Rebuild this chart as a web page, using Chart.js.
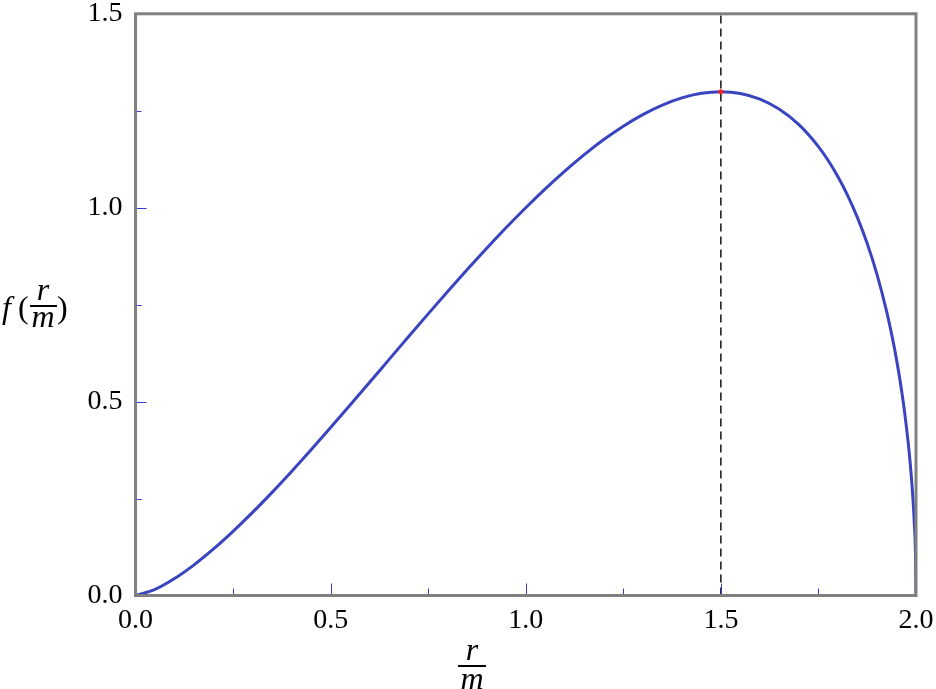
<!DOCTYPE html>
<html>
<head>
<meta charset="utf-8">
<script src="https://cdn.jsdelivr.net/npm/chart.js@4.4.1/dist/chart.umd.min.js"></script>
<style>
html,body{margin:0;padding:0;background:#fff;}
#wrap{position:relative;width:936px;height:689px;}
</style>
</head>
<body>
<div id="wrap"><canvas id="c" width="936" height="689"></canvas></div>
<script>
// r/m values
const xValues = [0, 0.05, 0.1, 0.15, 0.2, 0.25, 0.3, 0.35, 0.4, 0.45, 0.5, 0.55, 0.6, 0.65, 0.7, 0.75, 0.8, 0.85, 0.9, 0.95,
  1.0, 1.05, 1.1, 1.15, 1.2, 1.25, 1.3, 1.35, 1.4, 1.45, 1.5, 1.55, 1.6, 1.65, 1.7, 1.75, 1.775, 1.8, 1.825, 1.85, 1.875,
  1.9, 1.925, 1.94, 1.95, 1.96, 1.97, 1.98, 1.985, 1.99, 1.995, 1.999, 2.0];
// f(r/m) values
const yValues = [0, 0.0156, 0.0436, 0.0790, 0.1200, 0.1654, 0.2142, 0.2660, 0.3200, 0.3758, 0.4330, 0.4912, 0.5499, 0.6089, 0.6678, 0.7262, 0.7838, 0.8404, 0.8955, 0.9488,
  1.0, 1.0487, 1.0945, 1.1370, 1.1758, 1.2103, 1.2401, 1.2646, 1.2831, 1.2949, 1.2990, 1.2945, 1.2800, 1.2539, 1.2141, 1.1575, 1.1217, 1.0800, 1.0314, 0.9745, 0.9077,
  0.8282, 0.7314, 0.6619, 0.6089, 0.5488, 0.4789, 0.3940, 0.3425, 0.2807, 0.1993, 0.0894, 0];
const peakX = 1.5;
const peakY = 1.299;
const xTickValues = [0, 0.5, 1.0, 1.5, 2.0];
const yTickValues = [0, 0.5, 1.0, 1.5];
const xMinorTicks = [0.25, 0.75, 1.25, 1.75];
const yMinorTicks = [0.25, 0.75, 1.25];
const xLabelParts = ['r', 'm'];
const yLabelParts = ['f', '(', 'r', 'm', ')'];

const curve = xValues.map((x, i) => ({x: x, y: yValues[i]}));
const FONT = '"Liberation Serif", "Times New Roman", serif';

const decorPlugin = {
  id: 'decor',
  afterDraw(chart) {
    const ctx = chart.ctx;
    const xs = chart.scales.x, ys = chart.scales.y;
    const a = chart.chartArea;
    ctx.save();
    // inward ticks
    ctx.strokeStyle = '#3a3ad0';
    ctx.lineWidth = 1;
    const tick = (x1, y1, x2, y2) => { ctx.beginPath(); ctx.moveTo(x1, y1); ctx.lineTo(x2, y2); ctx.stroke(); };
    xTickValues.forEach(v => { const p = Math.round(xs.getPixelForValue(v)) + 0.5; tick(p, a.bottom, p, a.bottom - 12); });
    xMinorTicks.forEach(v => { const p = Math.round(xs.getPixelForValue(v)) + 0.5; tick(p, a.bottom, p, a.bottom - 7); });
    yTickValues.forEach(v => { const p = Math.round(ys.getPixelForValue(v)) + 0.5; tick(a.left, p, a.left + 11, p); });
    yMinorTicks.forEach(v => { const p = Math.round(ys.getPixelForValue(v)) + 0.5; tick(a.left, p, a.left + 6, p); });
    // frame
    ctx.strokeStyle = '#808080';
    ctx.lineWidth = 3;
    ctx.strokeRect(a.left, a.top, a.right - a.left, a.bottom - a.top);
    // axis titles (fractions)
    ctx.fillStyle = '#000';
    ctx.textBaseline = 'alphabetic';
    // x title r/m
    ctx.font = 'italic 32px ' + FONT;
    ctx.textAlign = 'center';
    const cx = 472;
    ctx.fillText(xLabelParts[0], cx, 660);
    ctx.fillText(xLabelParts[1], cx, 689);
    ctx.fillRect(cx - 14, 665, 28, 2);
    // y title f(r/m)
    ctx.textAlign = 'left';
    ctx.fillText(yLabelParts[0], 2, 318);
    ctx.font = '32px ' + FONT;
    ctx.fillText(yLabelParts[1], 18, 318);
    ctx.font = 'italic 32px ' + FONT;
    ctx.textAlign = 'center';
    ctx.fillText(yLabelParts[2], 43, 300);
    ctx.fillText(yLabelParts[3], 43, 327);
    ctx.fillRect(30, 305, 27, 2);
    ctx.font = '32px ' + FONT;
    ctx.textAlign = 'left';
    ctx.fillText(yLabelParts[4], 57, 318);
    ctx.restore();
  }
};

new Chart(document.getElementById('c'), {
  type: 'scatter',
  data: {
    datasets: [
      {
        data: [{x: peakX, y: peakY}],
        pointRadius: 2.5, pointBackgroundColor: '#ff2020', pointBorderWidth: 0,
        showLine: false, order: 0
      },
      {
        data: curve, showLine: true, borderColor: '#3a44c0', borderWidth: 3,
        pointRadius: 0, cubicInterpolationMode: 'monotone', order: 1
      },
      {
        data: [{x: peakX, y: 0}, {x: peakX, y: 1.5}], showLine: true,
        borderColor: '#000', borderWidth: 1.4, borderDash: [8, 5], pointRadius: 0, order: 2
      }
    ]
  },
  options: {
    responsive: false,
    animation: false,
    events: [],
    layout: {padding: {left: 0, right: 20, top: 13.8, bottom: 0}},
    plugins: {legend: {display: false}, tooltip: {enabled: false}},
    scales: {
      x: {
        type: 'linear', min: 0, max: 2,
        afterFit: s => { s.height = 93.5; s.paddingLeft = 0; s.paddingRight = 0; },
        grid: {display: false, drawTicks: false},
        border: {display: false},
        afterBuildTicks: s => { s.ticks = xTickValues.map(v => ({value: v})); },
        ticks: {
          autoSkip: false, maxRotation: 0, padding: 8, color: '#000',
          font: {family: FONT, size: 28},
          callback: v => Number(v).toFixed(1)
        }
      },
      y: {
        type: 'linear', min: 0, max: 1.5,
        afterFit: s => { s.width = 135.5; s.paddingTop = 0; s.paddingBottom = 0; },
        grid: {display: false, drawTicks: false},
        border: {display: false},
        afterBuildTicks: s => { s.ticks = yTickValues.map(v => ({value: v})); },
        ticks: {
          autoSkip: false, padding: 13, color: '#000',
          font: {family: FONT, size: 28},
          callback: v => Number(v).toFixed(1)
        }
      }
    }
  },
  plugins: [decorPlugin]
});
</script>
</body>
</html>
